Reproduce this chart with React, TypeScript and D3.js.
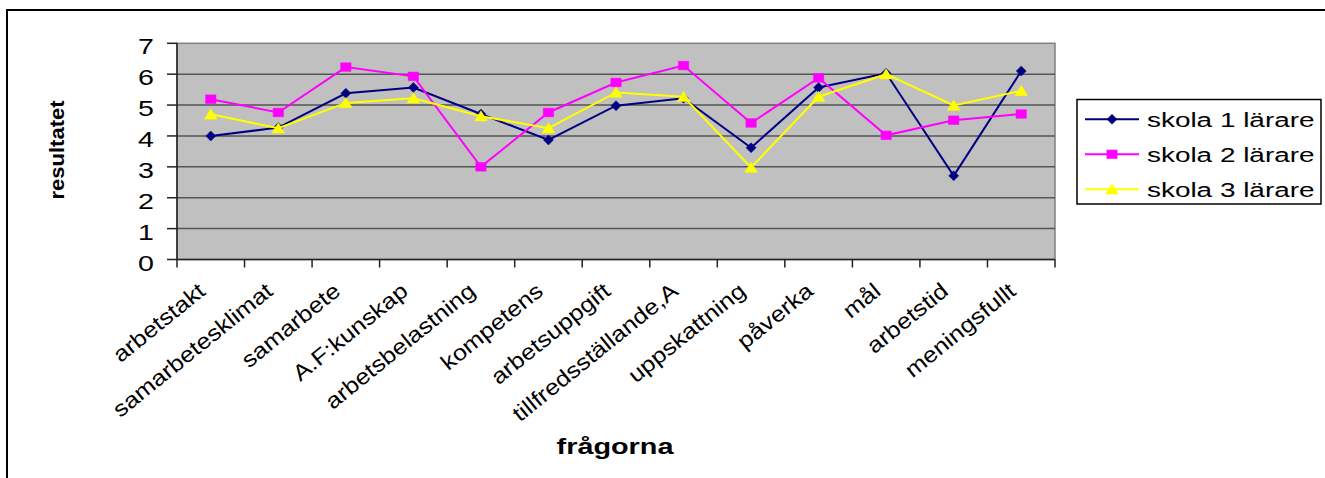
import React from "react";
import * as d3 from "d3";

const categories = [
  "arbetstakt",
  "samarbetesklimat",
  "samarbete",
  "A.F:kunskap",
  "arbetsbelastning",
  "kompetens",
  "arbetsuppgift",
  "tillfredsställande,A",
  "uppskattning",
  "påverka",
  "mål",
  "arbetstid",
  "meningsfullt",
];

const skola1 = [4.0, 4.27, 5.38, 5.57, 4.71, 3.87, 4.98, 5.22, 3.62, 5.57, 6.03, 2.71, 6.1];
const skola2 = [5.19, 4.76, 6.23, 5.93, 3.0, 4.76, 5.73, 6.28, 4.42, 5.88, 4.02, 4.51, 4.71];
const skola3 = [4.7, 4.25, 5.07, 5.22, 4.64, 4.25, 5.41, 5.27, 2.98, 5.27, 6.0, 4.99, 5.46];

const seriesNames = ["skola 1 lärare", "skola 2 lärare", "skola 3 lärare"];
const seriesColors = ["#000080", "#FF00FF", "#FFFF00"];
const yTicks = [0, 1, 2, 3, 4, 5, 6, 7];

const W = 1325;
const H = 478;
const plot = { left: 177, right: 1055, top: 43.3, bottom: 259.5 };
const FONT = "'Liberation Sans', Arial, Helvetica, sans-serif";

function markerPath(kind: number): string {
  if (kind === 0) return "M0,-5 L5,0 L0,5 L-5,0 Z";
  if (kind === 1) return "M-5.2,-4.3 L5.2,-4.3 L5.2,4.3 L-5.2,4.3 Z";
  return "M0,-5.5 L6.3,4.8 L-6.3,4.8 Z";
}

export default function App() {
  const x = d3
    .scaleBand<string>()
    .domain(categories)
    .range([plot.left, plot.right])
    .padding(0);
  const y = d3.scaleLinear().domain([0, 7]).range([plot.bottom, plot.top]);
  const cx = (c: string) => (x(c) as number) + x.bandwidth() / 2;

  const data = [skola1, skola2, skola3];
  const line = d3
    .line<number>()
    .x((_, i) => cx(categories[i]))
    .y((v) => y(v));

  const boundaries = categories.map((c) => x(c) as number).concat([plot.right]);

  const legendLinesY = [119.3, 154.3, 189.3];

  return (
    <svg
      width={W}
      height={H}
      style={{ position: "absolute", left: 0, top: 0, background: "#fff" }}
      fontFamily={FONT}
    >
      <rect x={0} y={0} width={W} height={H} fill="#fff" />
      {/* outer border */}
      <rect x={7} y={10} width={1330} height={480} fill="none" stroke="#000" strokeWidth={2} />

      {/* plot area */}
      <rect
        x={plot.left}
        y={plot.top}
        width={plot.right - plot.left}
        height={plot.bottom - plot.top}
        fill="#C0C0C0"
        stroke="#808080"
        strokeWidth={1.5}
      />
      {yTicks.slice(1, -1).map((t) => (
        <line
          key={"g" + t}
          x1={plot.left}
          x2={plot.right}
          y1={y(t)}
          y2={y(t)}
          stroke="#555"
          strokeWidth={1.5}
        />
      ))}
      {/* axes */}
      <line x1={plot.left} x2={plot.left} y1={plot.top} y2={plot.bottom} stroke="#222" strokeWidth={1.5} />
      <line x1={plot.left} x2={plot.right} y1={plot.bottom} y2={plot.bottom} stroke="#222" strokeWidth={1.5} />
      {yTicks.map((t) => (
        <g key={"yt" + t}>
          <line x1={plot.left - 10} x2={plot.left} y1={y(t)} y2={y(t)} stroke="#222" strokeWidth={1.5} />
          <text
            transform={`translate(154,${y(t) + 11}) scale(1.3,1)`}
            textAnchor="end"
            fontSize={22}
            fill="#000"
          >
            {t}
          </text>
        </g>
      ))}
      {boundaries.map((b, i) => (
        <line key={"xt" + i} x1={b} x2={b} y1={plot.bottom} y2={plot.bottom + 8} stroke="#222" strokeWidth={1.5} />
      ))}
      {categories.map((c) => (
        <text
          key={"xl" + c}
          transform={`translate(${cx(c) - 4},${plot.bottom + 34}) rotate(-39) scale(1.15,1)`}
          textAnchor="end"
          fontSize={22}
          fill="#000"
        >
          {c}
        </text>
      ))}

      {/* series */}
      {data.map((vals, si) => (
        <g key={"s" + si}>
          <path d={line(vals) || ""} fill="none" stroke={seriesColors[si]} strokeWidth={2} />
          {vals.map((v, i) => (
            <path
              key={i}
              d={markerPath(si)}
              transform={`translate(${cx(categories[i])},${y(v)})`}
              fill={seriesColors[si]}
              stroke={seriesColors[si]}
              strokeWidth={0.5}
            />
          ))}
        </g>
      ))}

      {/* axis titles */}
      <text
        transform={`translate(63.5,150) rotate(-90) scale(1.13,1)`}
        textAnchor="middle"
        fontSize={19.5}
        fontWeight="bold"
        fill="#000"
      >
        resultatet
      </text>
      <text
        transform={`translate(615,454) scale(1.31,1)`}
        textAnchor="middle"
        fontSize={22}
        fontWeight="bold"
        fill="#000"
      >
        frågorna
      </text>

      {/* legend */}
      <rect x={1077} y={99.5} width={244} height={104.5} fill="#fff" stroke="#000" strokeWidth={1.5} />
      {seriesNames.map((n, si) => (
        <g key={"l" + si}>
          <line
            x1={1085}
            x2={1139}
            y1={legendLinesY[si]}
            y2={legendLinesY[si]}
            stroke={seriesColors[si]}
            strokeWidth={2}
          />
          <path
            d={markerPath(si)}
            transform={`translate(1112,${legendLinesY[si]})`}
            fill={seriesColors[si]}
            stroke={seriesColors[si]}
            strokeWidth={0.5}
          />
          <text
            transform={`translate(1147,${legendLinesY[si] + 7.5}) scale(1.33,1)`}
            fontSize={21}
            fill="#000"
          >
            {n}
          </text>
        </g>
      ))}
    </svg>
  );
}
